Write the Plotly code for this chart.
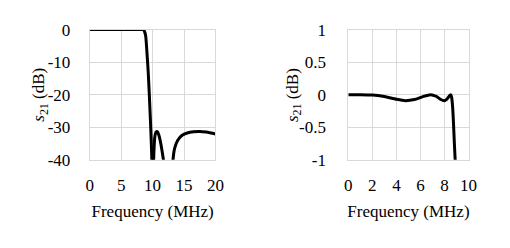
import plotly.graph_objects as go

# Left panel: wideband response (MHz, dB); None separates segments clipped below -40 dB
left_f = [0, 2, 4, 6, 8, 8.5, 8.7, 8.9, 9.1, 9.3, 9.5, 9.7, 9.85, 9.95, None,
          10.12, 10.2, 10.35, 10.55, 10.75, 11.0, 11.3, 11.6, 11.85, 11.95, None,
          13.15, 13.25, 13.5, 14.0, 14.7, 15.5, 16.5, 17.5, 18.5, 19.3, 20]
left_db = [0, 0, 0, 0, 0, -0.05, -0.5, -2, -7, -13, -21, -30, -38, -45, None,
           -45, -38, -33, -31.5, -31.4, -32.5, -35, -38.5, -42, -45, None,
           -45, -40, -36.5, -34, -32.5, -31.8, -31.4, -31.3, -31.5, -31.8, -32.1]

# Right panel: passband detail (MHz, dB)
right_f = [0, 1, 2, 3, 4, 4.75, 5.5, 6.2, 6.85, 7.3, 7.65, 7.97, 8.2, 8.4, 8.52,
           8.6, 8.68, 8.75, 8.82, 8.9]
right_db = [0, 0, -0.005, -0.03, -0.072, -0.092, -0.075, -0.03, 0.0, -0.025, -0.07,
            -0.095, -0.07, -0.02, 0.0, -0.05, -0.2, -0.45, -0.75, -1.05]

left_xticks = [0, 5, 10, 15, 20]
left_yticks = [0, -10, -20, -30, -40]
left_ylabels = ["0", "-10", "-20", "-30", "-40"]
right_xticks = [0, 2, 4, 6, 8, 10]
right_yticks = [1, 0.5, 0, -0.5, -1]
right_ylabels = ["1", "0.5", "0", "-0.5", "-1"]

FONT = "Liberation Serif"
GRID = "#d9d9d9"

fig = go.Figure()
fig.add_trace(go.Scatter(x=left_f, y=left_db, mode="lines", line=dict(color="black", width=3, shape="spline", smoothing=0.6),
                         connectgaps=False, xaxis="x", yaxis="y", showlegend=False))
fig.add_trace(go.Scatter(x=right_f, y=right_db, mode="lines", line=dict(color="black", width=3, shape="spline", smoothing=0.6),
                         xaxis="x2", yaxis="y2", showlegend=False))

ytitle = "<i>s</i><sub>21</sub> (dB)"
tfont = dict(family=FONT, size=17, color="black")
common_ax = dict(showgrid=True, gridcolor=GRID, gridwidth=1, showline=True, linecolor=GRID, linewidth=1,
                 mirror=True, zeroline=False, ticks="outside", tickcolor="rgba(0,0,0,0)",
                 tickfont=tfont)

fig.update_layout(
    width=510, height=248, margin=dict(l=0, r=0, t=0, b=0),
    plot_bgcolor="white", paper_bgcolor="white",
    font=dict(family=FONT, color="black"),
    xaxis=dict(domain=[0.1725, 0.4255], range=[0, 20], tickvals=left_xticks, ticklen=10, anchor="y",
               title=dict(text="Frequency (MHz)", font=tfont, standoff=11),
               **common_ax),
    yaxis=dict(domain=[0.342, 0.910], range=[-40, 0], tickvals=left_yticks, ticktext=left_ylabels,
               ticklen=15, anchor="x", **common_ax),
    xaxis2=dict(domain=[0.6928, 0.9347], range=[0, 10], tickvals=right_xticks, ticklen=10, anchor="y2",
                title=dict(text="Frequency (MHz)", font=tfont, standoff=11),
                **common_ax),
    yaxis2=dict(domain=[0.342, 0.910], range=[-1, 1], tickvals=right_yticks, ticktext=right_ylabels,
                ticklen=18, anchor="x2", **common_ax),
)

for xpos in (37 / 510, 297 / 510):
    fig.add_annotation(text=ytitle, xref="paper", yref="paper", x=xpos, y=(0.342 + 0.910) / 2,
                       xanchor="center", yanchor="middle", textangle=-90, showarrow=False, font=tfont)

fig.write_html("out.html")
